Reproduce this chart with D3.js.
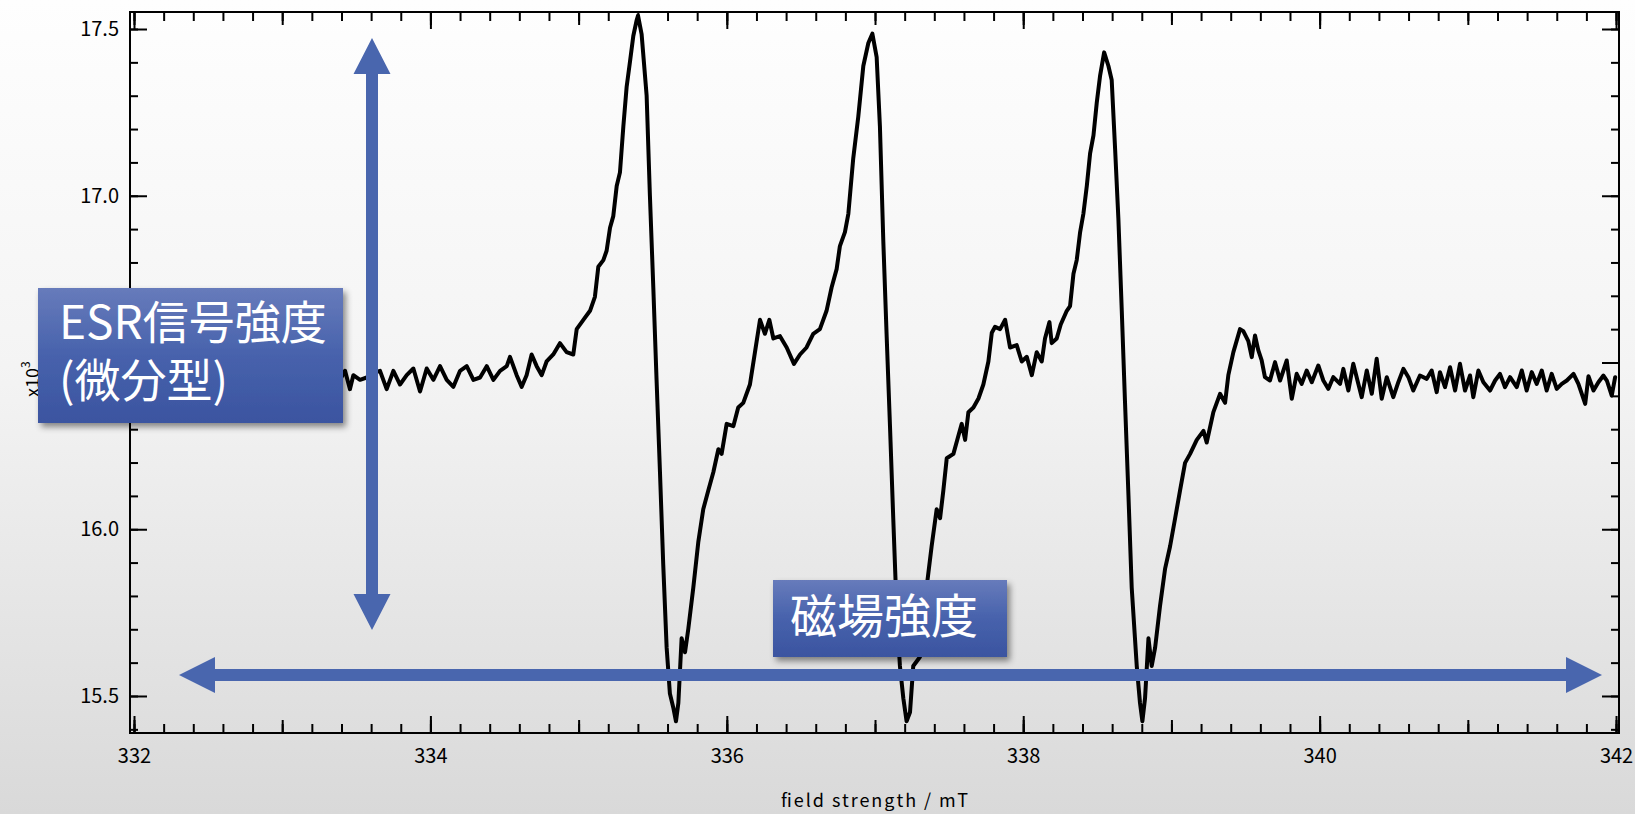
<!DOCTYPE html>
<html><head><meta charset="utf-8">
<script src="https://cdn.jsdelivr.net/npm/d3@7"></script>
<style>
html,body{margin:0;padding:0;overflow:hidden;background:#fff}
svg{display:block}
</style></head><body>
<svg id="chart" width="1635" height="814"></svg>
<script>
// ---------------- data ----------------
const field = [
332.000,332.060,332.120,332.180,332.240,332.300,332.360,332.420,332.480,332.540,332.600,332.660,332.720,332.780,332.840,332.900,332.960,333.020,333.080,333.140,333.200,333.260,333.320,
333.390,333.424,333.457,333.480,333.525,333.570,333.615,333.660,333.705,333.750,
333.795,333.840,333.885,333.930,333.975,334.020,334.065,334.110,334.155,334.200,
334.245,334.290,334.335,334.380,334.425,334.470,334.515,334.537,334.582,334.616,
334.649,334.683,334.717,334.751,334.784,334.829,334.874,334.919,334.964,334.987,
335.032,335.077,335.110,335.133,335.167,335.189,335.212,335.234,335.257,335.279,
335.302,335.324,335.347,335.369,335.392,335.401,
335.425,335.459,335.481,335.504,335.526,335.549,335.571,335.594,335.616,335.639,
335.657,335.673,335.695,335.718,335.740,335.774,335.808,335.841,335.875,335.909,
335.943,335.965,335.999,336.044,336.077,336.111,336.156,336.190,336.224,336.257,
336.287,336.314,336.359,336.404,336.453,336.494,336.538,336.583,336.628,336.673,
336.707,336.741,336.763,336.797,336.820,336.853,336.887,336.921,336.955,336.982,
337.011,337.033,337.056,337.078,337.101,337.123,337.146,337.168,337.191,337.213,
337.236,337.258,337.303,337.348,337.382,337.416,
337.439,337.461,337.484,337.529,337.563,337.585,337.608,337.630,337.664,337.698,
337.731,337.765,337.788,337.810,337.844,337.878,337.911,337.956,337.990,338.024,
338.058,338.091,338.125,338.147,338.177,338.192,338.226,338.253,338.294,338.316,
338.339,338.361,338.384,338.406,338.429,338.451,338.474,338.496,338.519,338.546,
338.575,338.597,338.620,338.642,338.665,338.687,338.710,338.732,338.766,338.788,
338.804,338.822,338.845,338.867,338.890,338.923,338.957,338.991,339.025,339.058,
339.092,339.126,339.171,339.216,339.238,339.283,339.328,339.362,339.384,339.418,
339.463,
339.485,339.519,339.542,339.564,339.586,339.609,339.631,339.665,339.699,339.733,
339.778,339.812,339.845,339.879,339.913,339.947,339.991,340.025,340.059,340.092,
340.138,340.160,340.194,340.227,340.261,340.284,340.318,340.352,340.385,340.419,
340.453,340.497,340.531,340.565,340.599,340.632,340.677,340.723,340.756,340.790,
340.812,340.846,340.880,340.914,340.947,340.981,341.015,341.037,341.071,341.105,
341.150,341.184,341.217,341.251,341.285,341.330,341.364,341.397,341.431,341.465,
341.499,341.532,341.566,341.600,341.634,341.668,341.713,341.746,341.792,341.814,
341.848,341.881,341.915,341.938,341.971,341.994
];
const signal = [
16.452,16.471,16.431,16.466,16.441,16.478,16.437,16.460,16.428,16.469,16.447,16.482,16.436,16.458,16.425,16.470,16.444,16.477,16.432,16.463,16.439,16.474,16.446,
16.448,16.475,16.420,16.462,16.448,16.455,16.469,16.475,16.420,16.475,
16.434,16.462,16.482,16.413,16.482,16.448,16.489,16.448,16.427,16.475,
16.489,16.448,16.455,16.489,16.448,16.475,16.489,16.517,16.462,16.427,
16.462,16.524,16.489,16.462,16.503,16.524,16.558,16.531,16.524,16.600,
16.628,16.655,16.697,16.787,16.807,16.835,16.904,16.939,17.029,17.070,
17.209,17.326,17.403,17.479,17.527,17.540,
17.485,17.300,17.001,16.725,16.448,16.171,15.894,15.645,15.507,15.465,
15.424,15.479,15.673,15.631,15.701,15.825,15.963,16.060,16.116,16.171,
16.240,16.226,16.316,16.309,16.365,16.379,16.434,16.531,16.628,16.586,
16.628,16.572,16.579,16.545,16.496,16.524,16.545,16.586,16.600,16.655,
16.725,16.780,16.849,16.891,16.946,17.112,17.237,17.389,17.458,17.486,
17.416,17.209,16.863,16.586,16.309,16.033,15.756,15.590,15.493,15.424,
15.451,15.590,15.617,15.825,15.949,16.060,
16.033,16.116,16.213,16.226,16.281,16.316,16.268,16.351,16.365,16.392,
16.434,16.503,16.589,16.607,16.600,16.628,16.545,16.552,16.503,16.517,
16.462,16.531,16.503,16.572,16.621,16.558,16.572,16.614,16.655,16.669,
16.766,16.807,16.891,16.946,17.029,17.126,17.181,17.278,17.361,17.430,
17.389,17.347,17.140,16.932,16.655,16.379,16.102,15.825,15.590,15.479,
15.424,15.493,15.673,15.590,15.645,15.770,15.881,15.949,16.033,16.116,
16.199,16.226,16.268,16.295,16.260,16.351,16.406,16.379,16.462,16.531,
16.600,
16.594,16.564,16.516,16.581,16.537,16.506,16.456,16.446,16.501,16.446,
16.506,16.391,16.466,16.436,16.476,16.441,16.491,16.446,16.421,16.456,
16.436,16.481,16.416,16.496,16.436,16.396,16.476,16.406,16.511,16.391,
16.456,16.396,16.441,16.481,16.456,16.416,16.461,16.451,16.476,16.411,
16.471,16.426,16.486,16.416,16.496,16.416,16.461,16.396,16.476,16.441,
16.416,16.446,16.466,16.426,16.456,16.426,16.476,16.416,16.471,16.436,
16.476,16.416,16.466,16.421,16.436,16.446,16.466,16.436,16.376,16.459,
16.416,16.441,16.461,16.446,16.401,16.456
];
const xMajorTicks = [332, 334, 336, 338, 340, 342];
const yMajorTicks = [15.5, 16.0, 16.5, 17.0, 17.5];
const yHiddenLabel = 16.5;   // label lies under the ESR box in the reference
const xDomain = [331.973, 342.02];
const yDomain = [15.389, 17.551];
const xTitle = "field strength / mT";
const yUnit = "x10";
const yUnitExp = "3";
const esrLabel = ["ESR信号強度", "(微分型)"];
const fieldLabel = "磁場強度";

// ---------------- layout ----------------
const W = 1635, H = 814;
const L = 130, R = 1619, T = 12, B = 733;
const FONT = "'Noto Sans CJK JP','Noto Sans',sans-serif";
const ARROW = "#4966ae";

const svg = d3.select("#chart");
const defs = svg.append("defs");
const bg = defs.append("linearGradient").attr("id","bg").attr("x1",0).attr("y1",0).attr("x2",0).attr("y2",1);
bg.append("stop").attr("offset","0").attr("stop-color","#fefefe");
bg.append("stop").attr("offset","0.45").attr("stop-color","#f4f4f4");
bg.append("stop").attr("offset","1").attr("stop-color","#d9d9d9");
const bx = defs.append("linearGradient").attr("id","boxg").attr("x1",0).attr("y1",0).attr("x2",0).attr("y2",1);
bx.append("stop").attr("offset","0").attr("stop-color","#677bbb");
bx.append("stop").attr("offset","0.5").attr("stop-color","#4762ac");
bx.append("stop").attr("offset","1").attr("stop-color","#3b54a0");
const f = defs.append("filter").attr("id","sh").attr("x","-10%").attr("y","-10%").attr("width","130%").attr("height","140%");
f.append("feDropShadow").attr("dx",3).attr("dy",4).attr("stdDeviation",3).attr("flood-color","#000").attr("flood-opacity",0.45);

svg.append("rect").attr("width",W).attr("height",H).attr("fill","url(#bg)");

const x = d3.scaleLinear().domain(xDomain).range([L, R]);
const y = d3.scaleLinear().domain(yDomain).range([B, T]);

function axis(gen, tr, vals, size, fmt, pad) {
  const g = svg.append("g").attr("transform", tr)
    .call(gen.tickValues(vals).tickSizeInner(size).tickSizeOuter(0).tickPadding(pad || 3).tickFormat(fmt || (() => "")));
  g.select(".domain").remove();
  g.selectAll("line").attr("stroke","#000").attr("stroke-width",2);
  g.selectAll("text").attr("font-family",FONT).attr("font-size",20).attr("fill","#000");
  g.selectAll("text").filter(function(){ return this.textContent === ""; }).remove();
  return g;
}
const xMinor = x.ticks(50), xMid = x.ticks(10), yMinor = y.ticks(20);
const yFmt = v => v === yHiddenLabel ? "" : d3.format(".1f")(v);
// bottom
axis(d3.axisBottom(x), `translate(0,${B})`, xMinor, -9);
axis(d3.axisBottom(x), `translate(0,${B})`, xMid, -13);
axis(d3.axisBottom(x), `translate(0,${B})`, xMajorTicks, -17, d3.format("d"), 16);
// top
axis(d3.axisTop(x), `translate(0,${T})`, xMinor, -9);
axis(d3.axisTop(x), `translate(0,${T})`, xMid, -13);
axis(d3.axisTop(x), `translate(0,${T})`, xMajorTicks, -17);
// left
axis(d3.axisLeft(y), `translate(${L},0)`, yMinor, -8);
axis(d3.axisLeft(y), `translate(${L},0)`, yMajorTicks, -17, yFmt, 11);
// right
axis(d3.axisRight(y), `translate(${R},0)`, yMinor, -8);
axis(d3.axisRight(y), `translate(${R},0)`, yMajorTicks, -17);

svg.append("rect").attr("x",L).attr("y",T).attr("width",R-L).attr("height",B-T)
  .attr("fill","none").attr("stroke","#000").attr("stroke-width",2);

// axis titles
svg.append("text").attr("x",(L+R)/2).attr("y",807).attr("text-anchor","middle")
  .attr("font-family",FONT).attr("font-size",18).attr("textLength",187).attr("lengthAdjust","spacing")
  .attr("fill","#000").text(xTitle);
const yu = svg.append("text").attr("transform","translate(39,397) rotate(-90)")
  .attr("font-family",FONT).attr("font-size",18).attr("fill","#000");
yu.append("tspan").text(yUnit);
yu.append("tspan").attr("font-size",12).attr("dy",-9).text(yUnitExp);

// curve
const pts = d3.zip(field, signal);
svg.append("path").datum(pts)
  .attr("d", d3.line().x(d => x(d[0])).y(d => y(d[1])))
  .attr("fill","none").attr("stroke","#000").attr("stroke-width",4)
  .attr("stroke-linejoin","round").attr("stroke-linecap","round");

// arrows
function vArrow(cx, top, bot, hl, hw, sw) {
  return [[cx,top],[cx+hw,top+hl],[cx+sw,top+hl],[cx+sw,bot-hl],[cx+hw,bot-hl],[cx,bot],
          [cx-hw,bot-hl],[cx-sw,bot-hl],[cx-sw,top+hl],[cx-hw,top+hl]];
}
function hArrow(cy, lft, rgt, hl, hw, sw) {
  return [[lft,cy],[lft+hl,cy-hw],[lft+hl,cy-sw],[rgt-hl,cy-sw],[rgt-hl,cy-hw],[rgt,cy],
          [rgt-hl,cy+hw],[rgt-hl,cy+sw],[lft+hl,cy+sw],[lft+hl,cy+hw]];
}
svg.append("polygon").attr("points", vArrow(372, 38, 630, 36, 18.5, 6).join(" ")).attr("fill",ARROW);
svg.append("polygon").attr("points", hArrow(675, 179, 1602, 36, 18, 6).join(" ")).attr("fill",ARROW);

// label boxes
svg.append("rect").attr("x",38).attr("y",288).attr("width",305).attr("height",135)
  .attr("fill","url(#boxg)").attr("filter","url(#sh)");
const esrT = svg.append("text").attr("font-family",FONT).attr("font-size",46).attr("fill","#fff");
esrLabel.forEach((s, i) => {
  esrT.append("tspan").attr("x",59).attr("y",339 + i*58).text(s);
});
svg.append("rect").attr("x",773).attr("y",580).attr("width",234).attr("height",77)
  .attr("fill","url(#boxg)").attr("filter","url(#sh)");
svg.append("text").attr("x",790).attr("y",633).attr("font-family",FONT)
  .attr("font-size",47).attr("fill","#fff").text(fieldLabel);
</script>
</body></html>
